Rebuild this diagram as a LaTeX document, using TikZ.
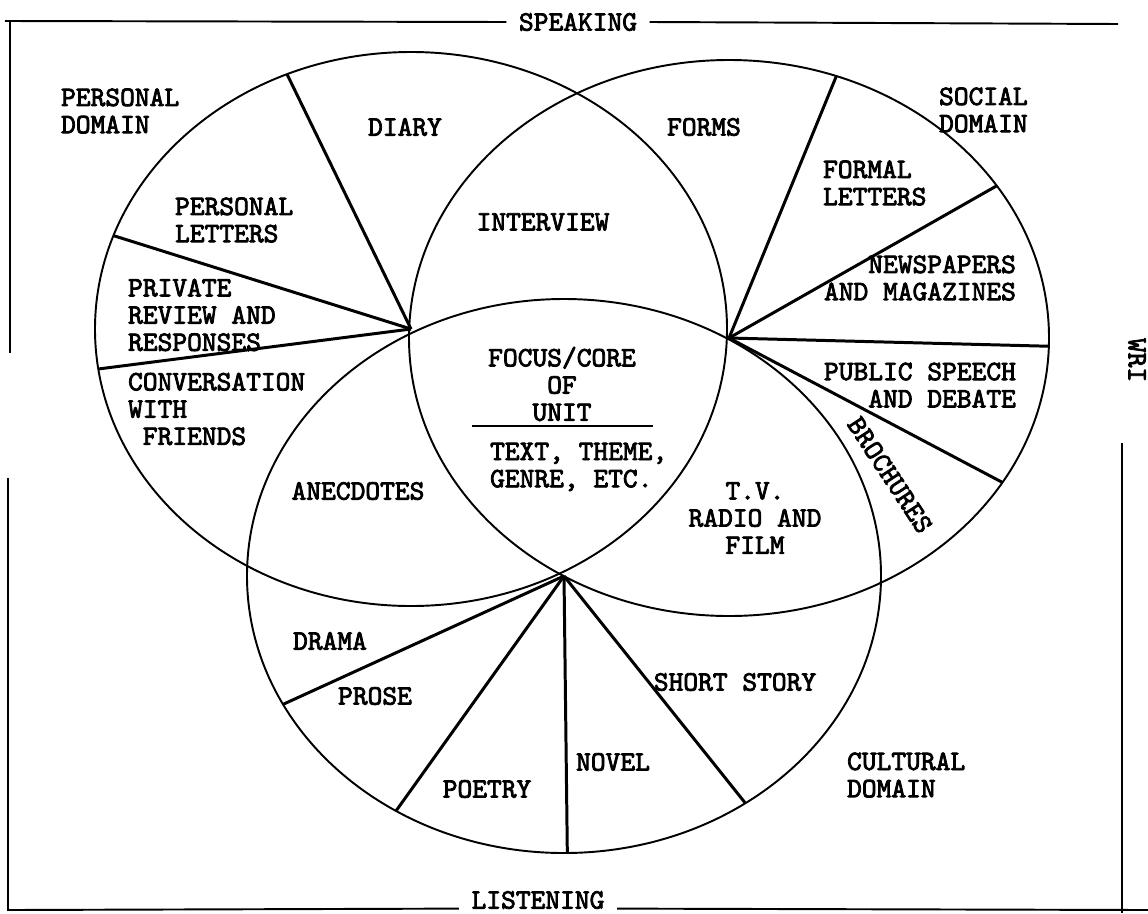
\documentclass[tikz,border=0pt]{standalone}
\usepackage{fontspec}
\newfontfamily\machine{lmmono10-regular.otf}[FakeBold=2.8]
\begin{document}
\begin{tikzpicture}[x=0.02cm, y=-0.02cm,
    every node/.style={font=\machine\fontsize{16}{15.5}\selectfont, inner sep=1pt},
    bord/.style={line width=1.1pt},
    cercle/.style={line width=1.1pt},
    rayon/.style={line width=1.7pt},
    titre/.style={inner xsep=7pt}]
    \useasboundingbox (0,0) rectangle (1148,913);

    % Centres des trois domaines
    \coordinate (P) at (411,329);
    \coordinate (S) at (729,338);
    \coordinate (C) at (564,576);

    % Les trois cercles
    \draw[cercle] (P) ellipse [x radius=316, y radius=277];
    \draw[cercle] (S) ellipse [x radius=320, y radius=278];
    \draw[cercle] (C) ellipse [x radius=317, y radius=277];

    % Rayons de chaque domaine
    \foreach \t in {-113.1,-160.3,171.7}
        \draw[rayon] (P) -- +(\t:316 and 277);
    \foreach \t in {-70.4,-33.2,1.7,31.3}
        \draw[rayon] (S) -- +(\t:320 and 278);
    \foreach \t in {152.4,122,89.4,55.1}
        \draw[rayon] (C) -- +(\t:317 and 277);

    % Cadre : parler, ecouter, ecrire
    \node[titre] (speak) at (578,22) {SPEAKING};
    \node[titre] (listen) at (538,900) {LISTENING};
    \node[rotate=-90] (wri) at (1137,360) {WRI};
    \draw[bord] (5,21) -- (speak.west);
    \draw[bord] (10,21) -- (10,353);
    \draw[bord] (speak.east) -- (1118,24);
    \draw[bord] (8,478) -- (8,910) -- (listen.base west);
    \draw[bord] (listen.base east) -- (1148,910);
    \draw[bord] (1122,443) -- (1122,913);

    % Domaine personnel
    \node[anchor=west, align=left] (dompers) at (59,111) {PERSONAL\\DOMAIN};
    \node (diary) at (405,127) {DIARY};
    \node[anchor=west, align=left] (perslet) at (173,220) {PERSONAL\\LETTERS};
    \node[anchor=west, align=left] (private) at (126,315) {PRIVATE\\REVIEW AND\\RESPONSES};
    \node[anchor=west, align=left] (conv) at (126,409) {CONVERSATION\\WITH\\\phantom{X}FRIENDS};

    % Domaine social
    \node[anchor=west, align=left] (domsoc) at (937,110) {SOCIAL\\DOMAIN};
    \node (forms) at (704,127) {FORMS};
    \node (interview) at (543,222) {INTERVIEW};
    \node[anchor=west, align=left] (formal) at (821,183) {FORMAL\\LETTERS};
    \node[anchor=east, align=right] (news) at (1018,278) {NEWSPAPERS\\AND MAGAZINES};
    \node[anchor=east, align=right] (public) at (1018,385) {PUBLIC SPEECH\\AND DEBATE};
    \node[rotate=-56.7] (broch) at (890,475) {BROCHURES};

    % Coeur de l'unite
    \node[align=center] (focus) at (562,384) {FOCUS/CORE\\OF\\UNIT};
    \draw[bord] (472,426) -- (653,426);
    \node[anchor=west, align=left] (theme) at (488,467) {TEXT, THEME,\\GENRE, ETC.};

    % Domaine culturel
    \node (anec) at (358,491) {ANECDOTES};
    \node[align=center] (tv) at (755,518) {T.V.\\RADIO AND\\FILM};
    \node (drama) at (330,641) {DRAMA};
    \node (prose) at (375,696) {PROSE};
    \node (poetry) at (487,789) {POETRY};
    \node (novel) at (613,762) {NOVEL};
    \node (short) at (735,682) {SHORT STORY};
    \node[anchor=west, align=left] (domcult) at (845,775) {CULTURAL\\DOMAIN};
\end{tikzpicture}
\end{document}
